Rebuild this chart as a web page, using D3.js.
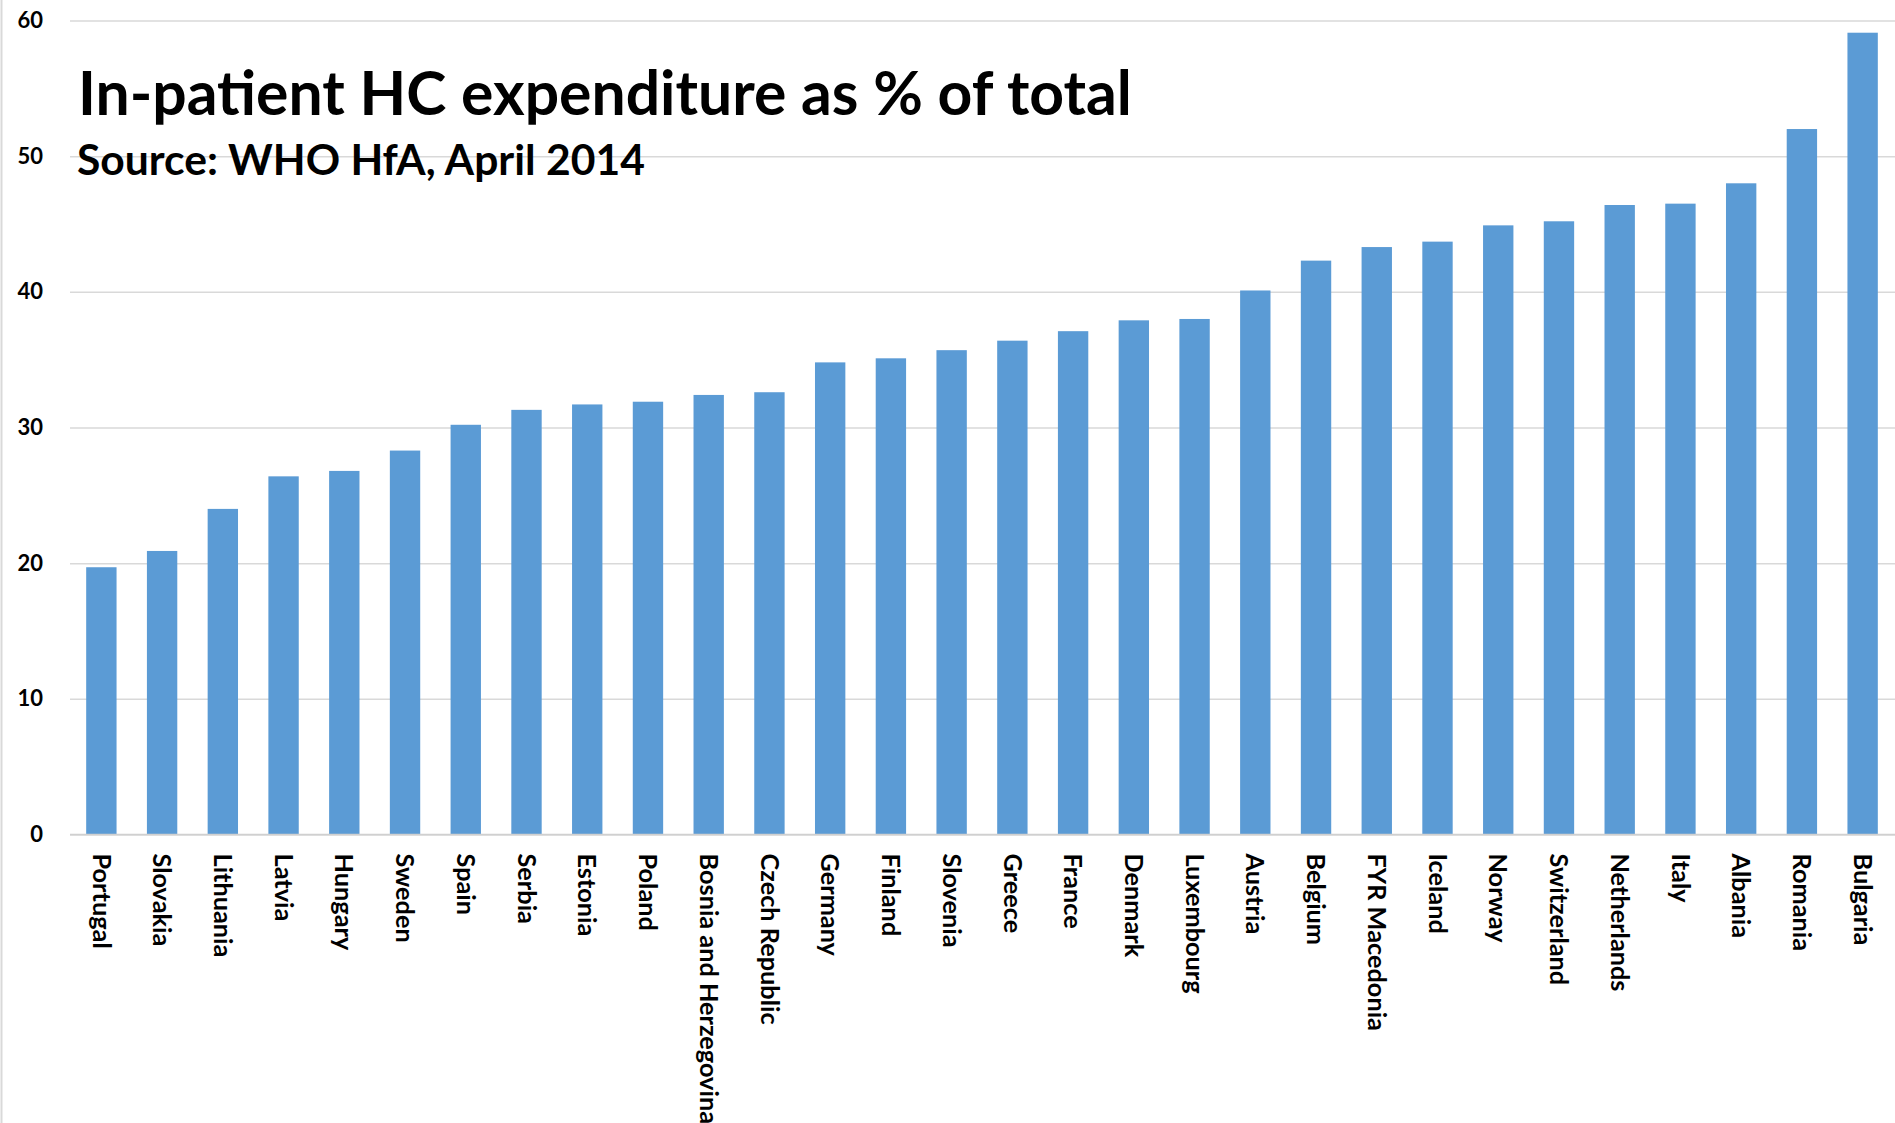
<!DOCTYPE html>
<html>
<head>
<meta charset="utf-8">
<script src="https://cdn.jsdelivr.net/npm/d3@7"></script>
<style>
  html, body { margin: 0; padding: 0; background: #ffffff; }
  svg { display: block; }
  text { font-family: "Lato", "Noto Sans", "DejaVu Sans", sans-serif; fill: #000; }
</style>
</head>
<body>
<script>
const categories = ["Portugal","Slovakia","Lithuania","Latvia","Hungary","Sweden","Spain","Serbia","Estonia","Poland",
  "Bosnia and Herzegovina","Czech Republic","Germany","Finland","Slovenia","Greece","France","Denmark","Luxembourg","Austria",
  "Belgium","FYR Macedonia","Iceland","Norway","Switzerland","Netherlands","Italy","Albania","Romania","Bulgaria"];
const values = [19.7,20.9,24.0,26.4,26.8,28.3,30.2,31.3,31.7,31.9,
  32.4,32.6,34.8,35.1,35.7,36.4,37.1,37.9,38.0,40.1,
  42.3,43.3,43.7,44.9,45.2,46.4,46.5,48.0,52.0,59.1];
const yTicks = [0,10,20,30,40,50,60];
const titleText = "In-patient HC expenditure as % of total";
const subtitleText = "Source: WHO HfA, April 2014";

const W = 1895, H = 1123;
const svg = d3.select("body").append("svg").attr("width", W).attr("height", H);
svg.append("rect").attr("width", W).attr("height", H).attr("fill", "#fff");
// left border of chart area
svg.append("line").attr("x1", 1.5).attr("x2", 1.5).attr("y1", 0).attr("y2", H)
  .attr("stroke", "#d9d9d9").attr("stroke-width", 2);

const x = d3.scaleBand().domain(categories).range([71, 1893]).paddingInner(0.5).paddingOuter(0.25);
const y = d3.scaleLinear().domain([0, 60]).range([834.5, 20.5]);

// gridlines
const grid = svg.append("g").attr("transform", "translate(70,0)")
  .call(d3.axisRight(y).tickValues(yTicks).tickSize(W - 70).tickFormat(""));
grid.select(".domain").remove();
grid.selectAll("line").attr("stroke", "#d9d9d9").attr("stroke-width", 1.5);

// y labels
const yl = svg.append("g").attr("transform", "translate(43,0)")
  .call(d3.axisLeft(y).tickValues(yTicks).tickSize(0).tickPadding(0).tickFormat(d3.format("d")));
yl.select(".domain").remove();
yl.selectAll("text").attr("font-size", 22).attr("font-weight", "bold").attr("fill", "#000")
  .style("font-family", '"Lato", "Noto Sans", sans-serif');

// bars
svg.append("g").selectAll("rect").data(values).join("rect")
  .attr("x", (d, i) => x(categories[i]))
  .attr("width", x.bandwidth())
  .attr("y", d => y(d))
  .attr("height", d => y(0) - y(d))
  .attr("fill", "#5b9bd5");

// x axis
const xa = svg.append("g").attr("transform", `translate(0,${y(0)})`)
  .call(d3.axisBottom(x).tickSize(0).tickPadding(0));
xa.select(".domain").attr("d", `M70,0H${W}`).attr("stroke", "#d0d0d0").attr("stroke-width", 1.5);
xa.selectAll("text")
  .attr("x", 0).attr("y", 0).attr("dy", "0.35em")
  .attr("transform", "translate(0,19) rotate(90)")
  .attr("text-anchor", "start")
  .attr("font-size", 25.3).attr("font-weight", "bold").attr("fill", "#000")
  .style("font-family", '"Lato", "Noto Sans", sans-serif');

// titles fitted to reference widths
function fit(sel, target) {
  const fs = +sel.attr("font-size");
  const len = sel.node().getComputedTextLength();
  sel.attr("font-size", (fs * target / len).toFixed(2));
}
const t1 = svg.append("text").attr("x", 78).attr("y", 115).attr("font-size", 56)
  .attr("font-weight", "bold").text(titleText);
fit(t1, 1054);
const t2 = svg.append("text").attr("x", 77).attr("y", 175).attr("font-size", 34)
  .attr("font-weight", "bold").text(subtitleText);
fit(t2, 568);
</script>
</body>
</html>
